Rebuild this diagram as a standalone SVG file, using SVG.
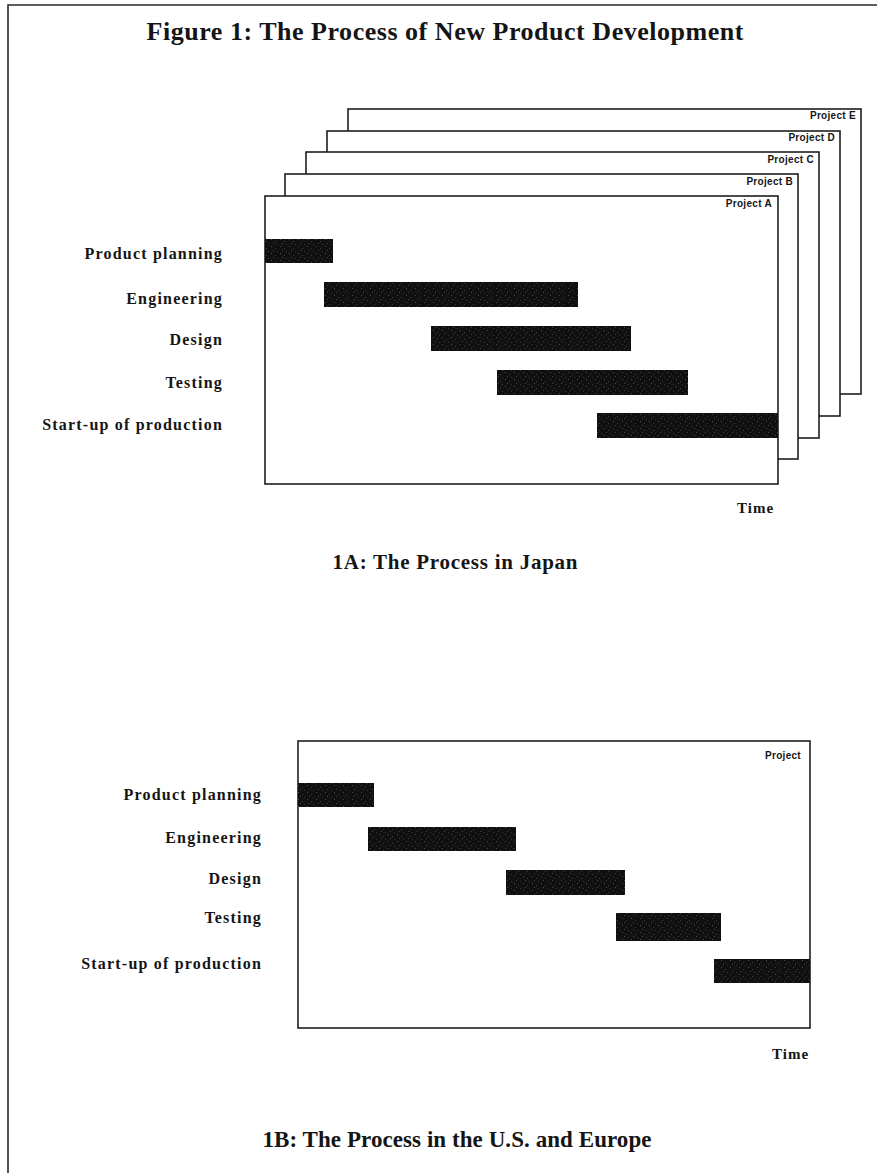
<svg xmlns="http://www.w3.org/2000/svg" width="877" height="1173" viewBox="0 0 877 1173">
  <style>
    .frame { fill: #ffffff; stroke: #1e1e1e; stroke-width: 1.6; }
    .border { fill: none; stroke: #2a2a2a; stroke-width: 1.6; }
    .bar { fill: url(#grain); }
    .title { font-family: "Liberation Serif", "Times New Roman", serif; font-weight: bold; fill: #151515; text-anchor: middle; }
    .label { font-family: "Liberation Serif", "Times New Roman", serif; font-weight: bold; font-size: 16px; letter-spacing: 1.2px; fill: #151515; text-anchor: end; }
    .proj { font-family: "Liberation Sans", Arial, sans-serif; font-weight: bold; font-size: 10px; letter-spacing: 0.3px; fill: #151515; text-anchor: end; }
    .time { font-family: "Liberation Serif", "Times New Roman", serif; font-weight: bold; font-size: 15px; letter-spacing: 1px; fill: #151515; }
  </style>
  <defs>
    <!-- dark bar fill with a faint speckle -->
    <pattern id="grain" width="9" height="7" patternUnits="userSpaceOnUse">
      <rect width="9" height="7" fill="#101010"/>
      <rect x="1" y="1" width="1" height="1" fill="#4a4a4a"/>
      <rect x="5" y="3" width="1" height="1" fill="#3c3c3c"/>
      <rect x="3" y="5" width="1" height="1" fill="#444444"/>
      <rect x="7" y="6" width="1" height="1" fill="#363636"/>
    </pattern>
  </defs>

  <rect width="877" height="1173" fill="#ffffff"/>

  <!-- page border: open to the right and bottom -->
  <path class="border" d="M8,1173 V5 H877"/>

  <text class="title" x="445" y="40" font-size="26" textLength="597">Figure 1: The Process of New Product Development</text>

  <!-- 1A: overlapping project sheets, back to front -->
  <g id="project-e">
    <rect class="frame" x="348" y="109" width="513" height="285"/>
    <text class="proj" x="856" y="119">Project E</text>
  </g>
  <g id="project-d">
    <rect class="frame" x="327" y="131" width="513" height="285"/>
    <text class="proj" x="835" y="141">Project D</text>
  </g>
  <g id="project-c">
    <rect class="frame" x="306" y="152" width="513" height="286"/>
    <text class="proj" x="814" y="163">Project C</text>
  </g>
  <g id="project-b">
    <rect class="frame" x="285" y="174" width="513" height="285"/>
    <text class="proj" x="793" y="185">Project B</text>
  </g>
  <g id="project-a">
    <rect class="frame" x="265" y="196" width="513" height="288"/>
    <text class="proj" x="772" y="207">Project A</text>
  </g>

  <g id="japan-bars">
    <rect class="bar" x="265" y="239" width="68" height="24"/>
    <rect class="bar" x="324" y="282" width="254" height="25"/>
    <rect class="bar" x="431" y="326" width="200" height="25"/>
    <rect class="bar" x="497" y="370" width="191" height="25"/>
    <rect class="bar" x="597" y="413" width="181" height="25"/>
  </g>

  <g id="japan-labels">
    <text class="label" x="223" y="259">Product planning</text>
    <text class="label" x="223" y="304">Engineering</text>
    <text class="label" x="223" y="345">Design</text>
    <text class="label" x="223" y="388">Testing</text>
    <text class="label" x="223" y="430">Start-up of production</text>
  </g>

  <text class="time" x="737" y="513">Time</text>
  <text class="title" x="455" y="569" font-size="21" textLength="245">1A: The Process in Japan</text>

  <!-- 1B: single project sheet -->
  <g id="project-us">
    <rect class="frame" x="298" y="741" width="512" height="287"/>
    <text class="proj" x="801" y="759">Project</text>
  </g>

  <g id="us-bars">
    <rect class="bar" x="298" y="783" width="76" height="24"/>
    <rect class="bar" x="368" y="827" width="148" height="24"/>
    <rect class="bar" x="506" y="870" width="119" height="25"/>
    <rect class="bar" x="616" y="913" width="105" height="28"/>
    <rect class="bar" x="714" y="959" width="96" height="24"/>
  </g>

  <g id="us-labels">
    <text class="label" x="262" y="800">Product planning</text>
    <text class="label" x="262" y="843">Engineering</text>
    <text class="label" x="262" y="884">Design</text>
    <text class="label" x="262" y="923">Testing</text>
    <text class="label" x="262" y="969">Start-up of production</text>
  </g>

  <text class="time" x="772" y="1059">Time</text>
  <text class="title" x="457" y="1147" font-size="23" textLength="389">1B: The Process in the U.S. and Europe</text>
</svg>
